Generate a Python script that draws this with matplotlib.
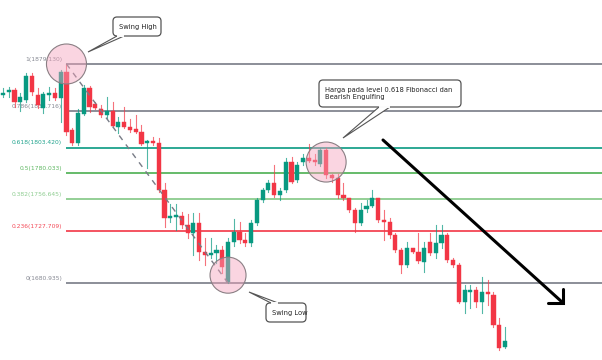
import matplotlib
matplotlib.use("Agg")
import matplotlib.pyplot as plt
from matplotlib.patches import Ellipse, FancyBboxPatch, Polygon
import numpy as np

opens  = [1851,1854,1856,1845,1847,1868,1851,1839,1851,1853,1848,1872,1819,1808,1834,1857,1843,1838,1833,1837,
          1822,1827,1822,1820,1818,1808,1809,1808,1765,1740,1741,1742,1733,1726,1735,1709,1706,1708,1711,1682,
          1718,1727,1720,1717,1735,1756,1765,1771,1761,1765,1790,1774,1790,1794,1792,1789,1801,1779,1776,1761,
          1758,1747,1735,1748,1751,1758,1738,1736,1724,1711,1697,1713,1709,1700,1718,1708,1717,1724,1702,1697,
          1664,1673,1675,1664,1673,1670,1643,1623]
highs  = [1857,1858,1857,1853,1871,1871,1857,1854,1858,1857,1874,1879.13,1821,1838,1860,1859,1845,1842,1849,1845,
          1831,1840,1829,1833,1824,1810,1813,1812,1771,1752,1752,1745,1743,1744,1744,1722,1722,1715,1714,1722,
          1739,1736,1726,1738,1758,1767,1774,1788,1767,1794,1795,1790,1798,1807,1798,1803,1803,1780,1780,1771,
          1758,1749,1753,1756,1765,1758,1747,1740,1726,1713,1718,1713,1726,1718,1726,1733,1733,1726,1704,1699,
          1679,1679,1677,1686,1684,1673,1649,1641]
lows   = [1849,1849,1840,1837,1845,1851,1839,1835,1847,1847,1827,1815,1806,1806,1833,1836,1838,1831,1829,1822,
          1817,1821,1818,1817,1806,1785,1806,1763,1732,1736,1729,1731,1722,1706,1702,1697,1704,1699,1690,1680.935,
          1714,1717,1714,1714,1733,1754,1763,1759,1756,1763,1771,1772,1788,1790,1788,1787,1776,1772,1758,1756,
          1745,1727,1733,1745,1750,1736,1720,1722,1709,1690,1695,1708,1699,1691,1706,1704,1713,1700,1695,1663,
          1654,1658,1659,1654,1661,1641,1620,1622]
closes = [1853,1856,1845,1849,1868,1854,1842,1852,1853,1848,1872,1818,1808,1835,1857,1840,1839,1833,1837,1823,
          1827,1822,1819,1818,1807,1809,1808,1765,1740,1741,1742,1733,1726,1735,1709,1706,1708,1711,1695,1718,
          1727,1720,1717,1735,1756,1765,1771,1761,1764,1790,1772,1788,1794,1791,1790,1801,1779,1776,1761,1758,
          1747,1735,1747,1751,1758,1738,1736,1724,1711,1697,1713,1709,1701,1713,1708,1717,1724,1702,1697,1664,
          1675,1675,1664,1673,1671,1643,1622,1628]

fib_levels = [1, 0.786, 0.618, 0.5, 0.382, 0.236, 0]
fib_prices = [1879.130, 1836.716, 1803.420, 1780.033, 1756.645, 1727.709, 1680.935]
fib_labels = ["1(1879.130)", "0.786(1836.716)", "0.618(1803.420)", "0.5(1780.033)",
              "0.382(1756.645)", "0.236(1727.709)", "0(1680.935)"]
fib_colors = ["#787b86", "#787b86", "#089981", "#4caf50", "#81c784", "#f23645", "#787b86"]

swing_high_idx = 11
swing_low_idx = 39
engulf_idx = 56

UP = "#089981"
DOWN = "#f23645"

fig = plt.figure(figsize=(6.02, 3.60), dpi=100)
ax = fig.add_axes([0, 0, 1, 1])
ax.set_facecolor("white")
n = len(opens)
x = np.arange(n)
dx = 5.77  # pixels per candle
ax.set_xlim(-3 / dx, (602 - 3) / dx)
ax.set_ylim(1611.25, 1937.05)
ax.axis("off")

# fib lines and labels
for lvl, p, lab, col in zip(fib_levels, fib_prices, fib_labels, fib_colors):
    ax.plot([swing_high_idx - 0.1, 200], [p, p], color=col, lw=1.2, zorder=1, solid_capstyle="butt")
    ax.text(swing_high_idx - 0.75, p + 4.3, lab, color=col, fontsize=4.3, ha="right", va="center",
            zorder=2, alpha=0.9)

# candles
for i in range(n):
    o, h, l, c = opens[i], highs[i], lows[i], closes[i]
    col = UP if c >= o else DOWN
    ax.plot([i, i], [l, h], color=col, lw=0.8, zorder=3, alpha=0.7)
    bottom = min(o, c)
    height = max(abs(c - o), 1.6)
    ax.bar(i, height, bottom=bottom, width=0.72, color=col, edgecolor=col, linewidth=0.3, zorder=4)

# dashed line swing high -> swing low
ax.plot([swing_high_idx, swing_low_idx], [fib_prices[0], fib_prices[-1]], color="#787b86",
        lw=1.0, ls=(0, (4, 4)), zorder=5)

# circles
py = 0.905  # price per pixel
def circ(xi, yp, rpx):
    e = Ellipse((xi, yp), width=2 * rpx / dx, height=2 * rpx * py, facecolor="#f5a3bd",
                alpha=0.45, edgecolor="none", zorder=6)
    ax.add_patch(e)
    e2 = Ellipse((xi, yp), width=2 * rpx / dx, height=2 * rpx * py, facecolor="none",
                 edgecolor="#8a7f84", lw=0.8, zorder=7)
    ax.add_patch(e2)

circ(swing_high_idx, fib_prices[0], 20)
circ(engulf_idx, 1790.4, 20)
circ(swing_low_idx, 1688, 18)

# overlay for callouts (pixel coords)
ov = fig.add_axes([0, 0, 1, 1])
ov.set_xlim(0, 602)
ov.set_ylim(360, 0)
ov.axis("off")
ov.patch.set_alpha(0)

def callout(x0, y0, w, h, text, tail_base, tip):
    poly = Polygon([tail_base[0], tip, tail_base[1]], closed=False, facecolor="white",
                   edgecolor="#555555", lw=0.8, zorder=10)
    ov.add_patch(poly)
    box = FancyBboxPatch((x0, y0), w, h, boxstyle="round,pad=0,rounding_size=4",
                         facecolor="white", edgecolor="#555555", lw=0.9, zorder=11)
    ov.add_patch(box)
    ov.plot([tail_base[0][0] + 0.8, tail_base[1][0] - 0.8], [tail_base[0][1], tail_base[1][1]],
            color="white", lw=1.4, zorder=12)
    ov.text(x0 + 6, y0 + h / 2, text, fontsize=4.9, color="#222222", ha="left", va="center",
            zorder=13, linespacing=1.25)

callout(113, 17, 48, 19, "Swing High", [(117, 36), (124, 36)], (88, 52))
callout(266, 303, 40, 19, "Swing Low", [(271, 303), (278, 303)], (249, 292))
callout(319, 80, 142, 27, "Harga pada level 0.618 Fibonacci dan\nBearish Engulfing",
        [(379, 107), (390, 107)], (343, 138))

# black arrow
ov.plot([383, 562], [140, 302], color="black", lw=2.2, zorder=9, solid_capstyle="round")
ov.plot([548, 563, 563], [303, 303, 289], color="black", lw=2.2, zorder=9,
        solid_joinstyle="miter", solid_capstyle="round")

fig.savefig("out.png", dpi=100, facecolor="white")
